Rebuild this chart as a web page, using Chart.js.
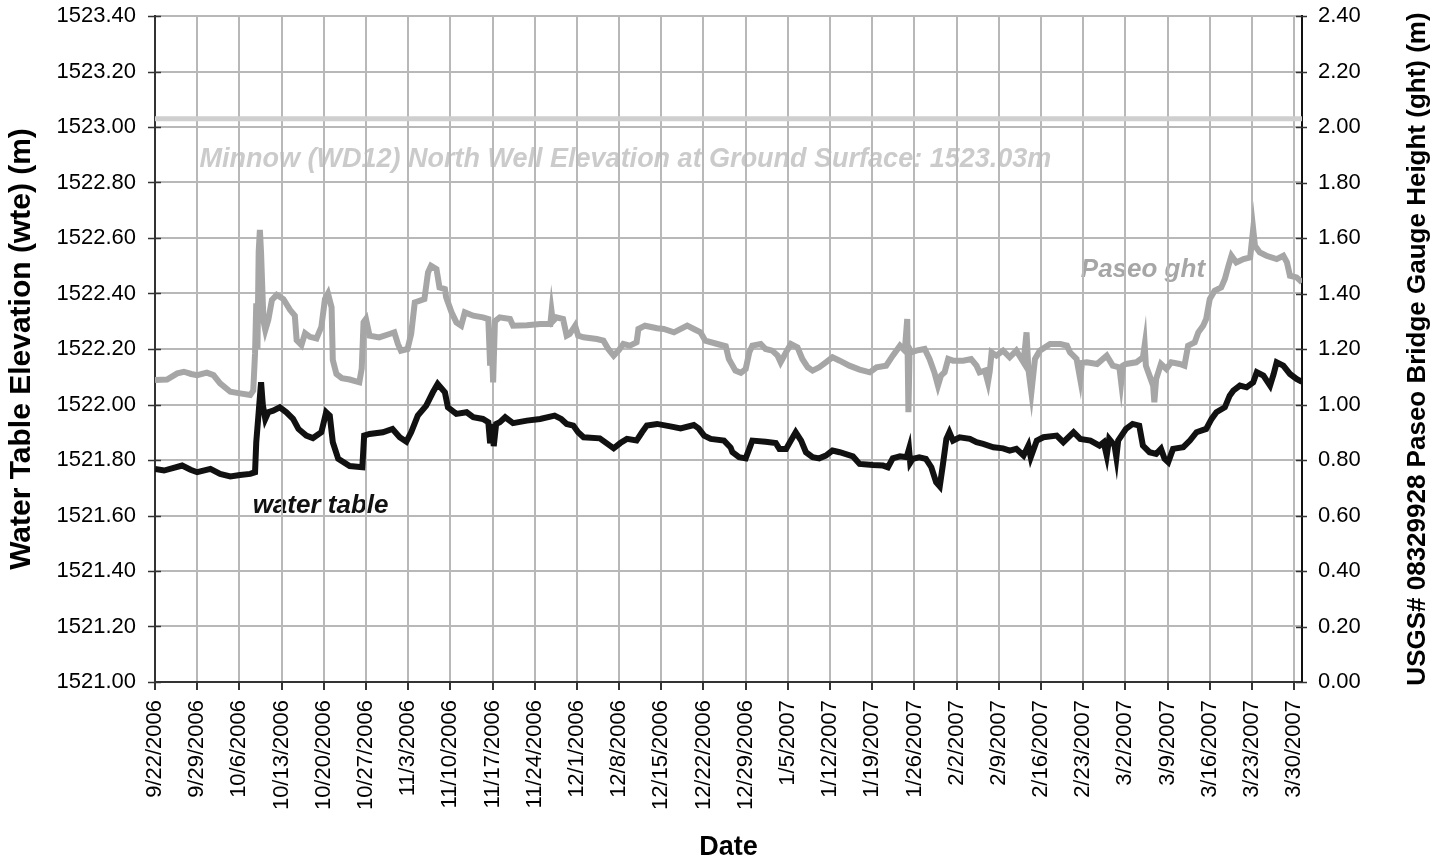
<!DOCTYPE html>
<html>
<head>
<meta charset="utf-8">
<script src="https://cdn.jsdelivr.net/npm/chart.js@4.4.0/dist/chart.umd.min.js"></script>
<style>
  html, body { margin: 0; padding: 0; background: #fff; }
</style>
</head>
<body>
<canvas id="canvas" width="1431" height="867"></canvas>
<script>
const ctx = document.getElementById("canvas").getContext("2d");

// x values are days since 9/22/2006
const tickLabels = [
  "9/22/2006", "9/29/2006", "10/6/2006", "10/13/2006", "10/20/2006", "10/27/2006",
  "11/3/2006", "11/10/2006", "11/17/2006", "11/24/2006", "12/1/2006", "12/8/2006",
  "12/15/2006", "12/22/2006", "12/29/2006", "1/5/2007", "1/12/2007", "1/19/2007",
  "1/26/2007", "2/2/2007", "2/9/2007", "2/16/2007", "2/23/2007", "3/2/2007",
  "3/9/2007", "3/16/2007", "3/23/2007", "3/30/2007"
];
const lastDay = 190.3;
const groundElevation = 1523.03;

const wteDays = [
  0, 1.5, 4.5, 5.9, 7.0, 9.2, 10.8, 12.5, 14.1, 15.8, 16.6, 16.8, 17.2, 17.6, 17.9, 18.3,
  18.8, 19.6, 20.7, 21.8, 22.9, 23.8, 25.1, 26.2, 27.6, 28.4, 29.0, 29.5, 30.4, 32.3, 34.4, 34.7,
  35.6, 37.8, 39.4, 40.6, 41.7, 42.5, 43.6, 45.0, 46.1, 46.9, 48.1, 48.6, 50.0, 51.7, 52.8, 54.4,
  55.3, 55.6, 55.9, 56.2, 56.6, 57.2, 58.1, 59.4, 61.7, 63.9, 66.3, 67.4, 68.3, 69.4, 70.2, 71.1,
  73.8, 74.9, 76.1, 77.2, 78.3, 79.9, 80.8, 81.6, 83.3, 85.5, 87.2, 89.4, 90.2, 91.1, 92.2, 94.4,
  95.5, 95.8, 96.9, 98.0, 98.8, 99.1, 101.3, 103.0, 103.6, 104.7, 105.5, 106.3, 107.2, 108.0, 109.1, 110.2,
  111.3, 112.4, 113.6, 115.8, 116.9, 119.1, 120.8, 121.6, 122.4, 123.6, 124.7, 125.1, 125.3, 125.7, 126.8, 127.9,
  128.8, 129.6, 130.2, 130.7, 131.3, 131.8, 132.4, 133.5, 135.2, 136.3, 137.4, 139.1, 140.7, 141.8, 142.9, 144.1,
  144.9, 145.3, 146.3, 147.4, 149.6, 150.7, 152.4, 153.5, 155.2, 156.7, 157.4, 157.9, 158.3, 159.2, 159.5, 159.8,
  161.1, 162.2, 163.3, 163.9, 165.0, 166.1, 166.9, 167.5, 168.1, 168.9, 170.6, 171.7, 172.8, 174.4, 175.3, 176.1,
  177.5, 178.3, 178.9, 180.0, 181.1, 182.2, 182.8, 183.9, 185.0, 185.6, 186.1, 187.2, 188.3, 189.4, 190.3
];
const wteLevels = [
  1521.768, 1521.762, 1521.780, 1521.765, 1521.756, 1521.768, 1521.750, 1521.741, 1521.746, 1521.750, 1521.756, 1521.864, 1521.972, 1522.080, 1521.996, 1521.948,
  1521.972, 1521.978, 1521.990, 1521.972, 1521.948, 1521.912, 1521.888, 1521.879, 1521.900, 1521.972, 1521.960, 1521.864, 1521.804, 1521.778, 1521.774, 1521.888,
  1521.894, 1521.900, 1521.912, 1521.882, 1521.866, 1521.900, 1521.960, 1521.996, 1522.044, 1522.074, 1522.044, 1521.990, 1521.966, 1521.972, 1521.954, 1521.948,
  1521.936, 1521.860, 1521.930, 1521.850, 1521.930, 1521.936, 1521.954, 1521.933, 1521.942, 1521.948, 1521.960, 1521.948, 1521.930, 1521.924, 1521.900, 1521.882,
  1521.878, 1521.861, 1521.842, 1521.861, 1521.876, 1521.870, 1521.900, 1521.924, 1521.930, 1521.921, 1521.914, 1521.926, 1521.914, 1521.888, 1521.876, 1521.870,
  1521.845, 1521.828, 1521.810, 1521.806, 1521.852, 1521.870, 1521.866, 1521.861, 1521.840, 1521.840, 1521.870, 1521.900, 1521.870, 1521.828, 1521.810, 1521.806,
  1521.816, 1521.834, 1521.828, 1521.813, 1521.786, 1521.782, 1521.780, 1521.774, 1521.806, 1521.813, 1521.810, 1521.840, 1521.790, 1521.804, 1521.810, 1521.804,
  1521.774, 1521.720, 1521.705, 1521.780, 1521.876, 1521.900, 1521.870, 1521.882, 1521.876, 1521.864, 1521.858, 1521.846, 1521.842, 1521.834, 1521.840, 1521.816,
  1521.852, 1521.810, 1521.870, 1521.882, 1521.888, 1521.864, 1521.900, 1521.876, 1521.870, 1521.852, 1521.864, 1521.816, 1521.876, 1521.852, 1521.810, 1521.870,
  1521.912, 1521.930, 1521.924, 1521.852, 1521.828, 1521.822, 1521.840, 1521.804, 1521.792, 1521.840, 1521.846, 1521.870, 1521.900, 1521.912, 1521.948, 1521.972,
  1521.990, 1522.032, 1522.050, 1522.068, 1522.062, 1522.080, 1522.116, 1522.104, 1522.068, 1522.110, 1522.152, 1522.140, 1522.110, 1522.092, 1522.082
];

const ghtDays = [
  0, 2.0, 3.7, 4.8, 6.0, 7.0, 8.6, 9.7, 10.8, 12.5, 14.1, 15.8, 16.3, 16.6, 16.8, 17.0,
  17.2, 17.4, 17.6, 17.8, 18.0, 18.3, 18.8, 19.4, 20.2, 21.3, 22.4, 23.2, 23.5, 24.3, 24.9, 25.7,
  26.8, 27.6, 28.2, 28.7, 29.3, 29.5, 30.1, 31.0, 32.3, 33.9, 34.3, 34.6, 35.0, 35.6, 37.2, 38.9,
  39.7, 40.3, 40.8, 41.9, 42.5, 43.1, 44.7, 45.3, 45.8, 46.7, 47.2, 48.1, 48.3, 49.2, 50.0, 50.8,
  51.4, 52.8, 54.4, 55.3, 55.6, 55.8, 56.1, 56.4, 57.2, 58.9, 59.4, 61.7, 63.9, 65.6, 65.8, 66.0,
  66.6, 67.7, 68.3, 68.8, 69.7, 70.2, 71.1, 73.3, 74.4, 75.2, 76.1, 76.9, 77.7, 78.8, 79.9, 80.2,
  81.3, 83.3, 84.4, 86.1, 88.3, 89.4, 90.5, 91.3, 93.3, 94.7, 95.2, 96.3, 97.2, 98.0, 98.6, 99.1,
  100.5, 101.3, 102.4, 103.3, 103.8, 104.7, 105.5, 106.6, 107.4, 108.3, 109.1, 110.2, 111.3, 112.4, 113.6, 115.2,
  116.9, 118.6, 119.7, 121.3, 122.4, 123.6, 124.4, 124.8, 125.0, 125.2, 125.5, 126.3, 127.7, 128.5, 129.3, 129.9,
  130.4, 131.0, 131.6, 132.4, 134.1, 135.4, 136.3, 136.8, 137.7, 138.2, 138.5, 138.8, 139.6, 140.7, 141.8, 142.9,
  144.1, 144.6, 144.9, 145.4, 146.0, 146.8, 148.5, 150.2, 151.3, 151.8, 152.9, 153.5, 153.8, 154.6, 156.3, 157.9,
  158.9, 160.0, 160.3, 160.6, 161.1, 162.8, 163.9, 164.2, 164.4, 165.0, 165.6, 165.8, 166.1, 166.9, 167.8, 168.6,
  170.0, 170.8, 171.4, 172.5, 173.1, 173.9, 174.4, 175.0, 175.8, 176.9, 177.5, 178.1, 178.6, 179.4, 180.6, 181.7,
  182.2, 182.5, 183.3, 184.4, 186.1, 187.2, 187.8, 188.3, 189.4, 190.3
];
const ghtLevels = [
  1.088, 1.090, 1.112, 1.118, 1.110, 1.106, 1.115, 1.106, 1.076, 1.046, 1.040, 1.034, 1.050, 1.185, 1.365, 1.200,
  1.550, 1.629, 1.545, 1.420, 1.300, 1.268, 1.305, 1.377, 1.395, 1.380, 1.341, 1.320, 1.232, 1.214, 1.257, 1.244,
  1.238, 1.280, 1.380, 1.400, 1.350, 1.160, 1.110, 1.095, 1.090, 1.080, 1.130, 1.296, 1.308, 1.248, 1.242, 1.254,
  1.260, 1.218, 1.194, 1.200, 1.254, 1.368, 1.380, 1.476, 1.500, 1.488, 1.422, 1.416, 1.386, 1.332, 1.296, 1.284,
  1.332, 1.320, 1.314, 1.308, 1.140, 1.250, 1.080, 1.300, 1.314, 1.308, 1.284, 1.286, 1.290, 1.290, 1.335, 1.300,
  1.314, 1.308, 1.248, 1.254, 1.284, 1.248, 1.242, 1.236, 1.230, 1.200, 1.176, 1.194, 1.218, 1.212, 1.224, 1.272,
  1.284, 1.275, 1.272, 1.260, 1.284, 1.272, 1.260, 1.230, 1.218, 1.210, 1.164, 1.122, 1.114, 1.128, 1.188, 1.212,
  1.218, 1.200, 1.194, 1.176, 1.152, 1.188, 1.218, 1.206, 1.164, 1.134, 1.122, 1.134, 1.152, 1.170, 1.158, 1.140,
  1.126, 1.116, 1.134, 1.140, 1.176, 1.212, 1.194, 1.308, 0.972, 1.200, 1.188, 1.194, 1.200, 1.164, 1.116, 1.068,
  1.104, 1.116, 1.164, 1.158, 1.158, 1.164, 1.140, 1.116, 1.122, 1.080, 1.120, 1.188, 1.176, 1.194, 1.170, 1.194,
  1.152, 1.260, 1.128, 1.044, 1.164, 1.194, 1.218, 1.218, 1.212, 1.188, 1.164, 1.092, 1.150, 1.152, 1.146, 1.176,
  1.140, 1.134, 1.080, 1.140, 1.146, 1.152, 1.170, 1.215, 1.140, 1.104, 1.068, 1.008, 1.092, 1.146, 1.128, 1.152,
  1.146, 1.140, 1.212, 1.224, 1.260, 1.284, 1.308, 1.380, 1.410, 1.422, 1.452, 1.500, 1.536, 1.512, 1.524, 1.530,
  1.632, 1.572, 1.548, 1.536, 1.524, 1.536, 1.512, 1.464, 1.458, 1.440
];

const toPoints = (days, values) => days.map((d, i) => ({ x: d, y: values[i] }));

Chart.defaults.font.family = '"Liberation Sans", Arial, sans-serif';
Chart.defaults.color = "#000";

// labels drawn under the grid, like the original
const notes = {
  id: "notes",
  beforeDraw(chart) {
    const c = chart.ctx;
    const x = chart.scales.x;
    const y = chart.scales.y;
    c.save();
    c.font = 'italic bold 27px "Liberation Sans", Arial, sans-serif';
    c.textBaseline = "middle";
    c.textAlign = "left";
    c.fillStyle = "#cbcbcb";
    c.fillText("Minnow (WD12) North Well Elevation at Ground Surface: 1523.03m",
      x.getPixelForValue(7.4), y.getPixelForValue(1522.881));
    c.font = 'italic bold 26px "Liberation Sans", Arial, sans-serif';
    c.fillStyle = "#a6a6a6";
    c.fillText("Paseo ght", x.getPixelForValue(153.6), y.getPixelForValue(1522.485));
    c.fillStyle = "#111";
    c.fillText("water table", x.getPixelForValue(16.2), y.getPixelForValue(1521.634));
    c.restore();
  },
  afterDraw(chart) {
    const c = chart.ctx;
    const area = chart.chartArea;
    c.save();
    // cross tick marks on both value axes
    c.strokeStyle = "#333";
    c.lineWidth = 1.5;
    chart.scales.y.ticks.forEach((t, i) => {
      const py = Math.round(chart.scales.y.getPixelForTick(i)) + 0.5;
      c.beginPath();
      c.moveTo(area.left - 7, py);
      c.lineTo(area.left + 6, py);
      c.stroke();
    });
    chart.scales.y2.ticks.forEach((t, i) => {
      const py = Math.round(chart.scales.y2.getPixelForTick(i)) + 0.5;
      c.beginPath();
      c.moveTo(area.right - 6, py);
      c.lineTo(area.right + 5, py);
      c.stroke();
    });
    // right axis title reads bottom to top
    c.translate(1418, (area.top + area.bottom) / 2);
    c.rotate(-Math.PI / 2);
    c.font = 'bold 26px "Liberation Sans", Arial, sans-serif';
    c.fillStyle = "#000";
    c.textAlign = "center";
    c.textBaseline = "middle";
    c.fillText("USGS# 08329928 Paseo Bridge Gauge Height (ght) (m)", 0, 0);
    c.restore();
  }
};

const plot = new Chart(ctx, {
  type: "line",
  data: {
    datasets: [
      {
        label: "ground surface",
        data: toPoints([0, lastDay], [groundElevation, groundElevation]),
        borderColor: "#cfcfcf",
        borderWidth: 5,
        pointRadius: 0,
        yAxisID: "y"
      },
      {
        label: "Paseo ght",
        data: toPoints(ghtDays, ghtLevels),
        borderColor: "#a6a6a6",
        borderWidth: 6,
        pointRadius: 0,
        yAxisID: "y2"
      },
      {
        label: "water table",
        data: toPoints(wteDays, wteLevels),
        borderColor: "#111",
        borderWidth: 6,
        pointRadius: 0,
        yAxisID: "y"
      }
    ]
  },
  options: {
    responsive: false,
    animation: false,
    layout: { padding: { top: 16, left: 0, right: 0, bottom: 0 } },
    plugins: { legend: { display: false }, tooltip: { enabled: false } },
    scales: {
      x: {
        type: "linear",
        min: 0,
        max: lastDay,
        afterBuildTicks: (scale) => {
          scale.ticks = tickLabels.map((_, i) => ({ value: i * 7 }));
        },
        afterFit: (scale) => { scale.height = 185; },
        ticks: {
          autoSkip: false,
          minRotation: 90,
          maxRotation: 90,
          padding: 10,
          font: { size: 22 },
          callback: (v, i) => tickLabels[i]
        },
        grid: { color: "#b8b8b8", lineWidth: 2, tickLength: 8, tickColor: "#333" },
        border: { color: "#333", width: 2 },
        title: {
          display: true,
          text: "Date",
          font: { size: 27, weight: "bold" },
          padding: { top: 0, bottom: 3 }
        }
      },
      y: {
        position: "left",
        min: 1521,
        max: 1523.4,
        afterFit: (scale) => { scale.width = 155; },
        ticks: {
          stepSize: 0.2,
          padding: 1,
          font: { size: 22 },
          callback: (v) => v.toFixed(2)
        },
        grid: { color: "#b8b8b8", lineWidth: 2, tickLength: 18, tickColor: "rgba(0,0,0,0)" },
        border: { color: "#333", width: 2 },
        title: {
          display: true,
          text: "Water Table Elevation (wte) (m)",
          font: { size: 30, weight: "bold" },
          padding: { top: 4, bottom: 0 }
        }
      },
      y2: {
        position: "right",
        min: 0,
        max: 2.4,
        afterFit: (scale) => { scale.width = 129; },
        ticks: {
          stepSize: 0.2,
          padding: 1,
          font: { size: 22 },
          callback: (v) => v.toFixed(2)
        },
        grid: { drawOnChartArea: false, tickLength: 15, tickColor: "rgba(0,0,0,0)" },
        border: { color: "#111", width: 2 }
      }
    }
  },
  plugins: [notes]
});
</script>
</body>
</html>
